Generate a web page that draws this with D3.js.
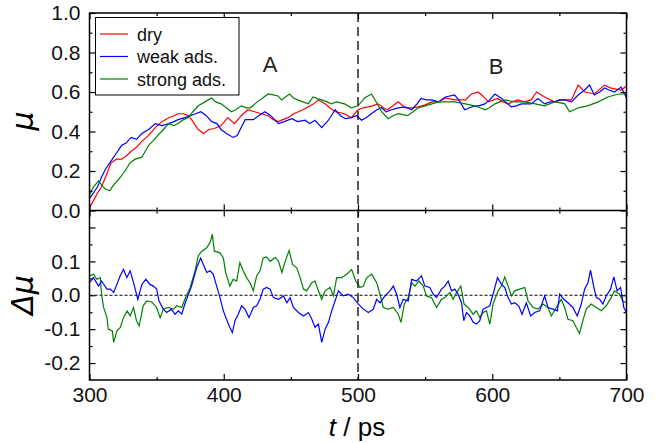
<!DOCTYPE html>
<html>
<head>
<meta charset="utf-8">
<script src="https://cdn.jsdelivr.net/npm/d3@7"></script>
<style>
  body { margin: 0; background: #fff; }
  svg { display: block; font-family: "Liberation Sans", Arial, sans-serif; }
  .tick text { fill: #111; }
</style>
</head>
<body>
<svg id="root" width="666" height="443"></svg>
<script>
//Series values: [t (ps), value]
const dryMu = [[300,.015],[303,.05],[306,.09],[309,.12],[312,.17],[316,.24],[320,.26],[324,.26],[328,.28],[331,.30],[335,.32],[339,.35],[344,.38],[349,.42],[354,.45],[359,.47],[363,.48],[366,.49],[370,.49],[374,.48],[378,.44],[381,.41],[385,.39],[389,.41],[393,.415],[398,.43],[403,.47],[408,.44],[413,.48],[418,.51],[423,.50],[428,.49],[433,.48],[437,.46],[440.5,.45],[444,.46],[448,.47],[452,.49],[455.6,.50],[459,.51],[463,.525],[467,.54],[470.5,.56],[475.5,.54],[479,.52],[483,.50],[487,.495],[490,.49],[495,.47],[500,.51],[504,.52],[507.7,.525],[511,.53],[515,.54],[519,.52],[522,.51],[526,.53],[530,.55],[535,.52],[540,.52],[545,.525],[550,.535],[555,.55],[560,.55],[565,.57],[572,.56],[580,.56],[584.5,.59],[589.5,.60],[593,.58],[597,.55],[604,.567],[608,.55],[611.7,.54],[615,.55],[619,.56],[624,.55],[629,.56],[633,.60],[639,.575],[646.5,.55],[651,.56],[659,.56],[664,.635],[669,.60],[676,.59],[683.6,.635],[688.5,.62],[696,.61],[700,.63]];

const weakMu = [[300,.06],[303,.09],[306,.12],[309,.17],[312,.21],[316,.25],[320,.29],[324,.33],[327,.34],[331,.37],[335,.36],[339,.39],[344,.41],[349,.44],[354,.43],[359,.44],[363,.45],[366,.46],[371,.47],[375,.48],[379,.49],[383,.50],[387,.48],[391,.45],[395,.44],[398,.41],[402,.39],[407,.37],[410,.38],[413,.42],[416,.46],[422,.46],[426,.48],[430.6,.50],[435,.48],[440.7,.44],[445,.45],[450.7,.465],[455,.45],[460.6,.457],[464,.44],[468,.457],[473,.42],[478,.457],[483,.51],[487,.48],[490.5,.465],[495,.47],[499,.48],[502.7,.457],[506,.47],[510,.49],[514,.51],[517.6,.52],[521,.50],[525,.51],[530,.52],[535,.525],[540,.51],[544,.54],[547,.567],[551,.56],[555,.56],[560,.55],[565,.575],[572,.585],[576,.55],[579.5,.51],[583,.52],[587,.53],[590,.53],[594.5,.54],[598,.56],[602,.59],[607,.567],[610,.55],[614,.525],[618,.53],[621.7,.54],[625,.54],[629,.54],[634,.567],[639,.54],[643,.55],[646.5,.55],[650,.56],[654,.56],[659,.55],[664,.585],[668.8,.61],[672.5,.635],[676,.585],[680,.60],[683.6,.62],[687,.61],[691,.60],[696,.625],[700,.57]];

const strongMu = [[300,.08],[303,.12],[306.7,.15],[309,.13],[311.6,.11],[315,.10],[318,.13],[322,.16],[326.5,.20],[330,.24],[334,.26],[339,.27],[344,.33],[347,.35],[351,.38],[355,.41],[359,.44],[363,.43],[366,.44],[370,.46],[373.5,.47],[377,.50],[381,.53],[386,.55],[391,.57],[394,.55],[398,.54],[402,.52],[405.6,.50],[409,.51],[413,.53],[417,.52],[420,.52],[425,.55],[429,.57],[433,.59],[437,.585],[440.5,.58],[443,.56],[446,.575],[449,.59],[452,.57],[455,.56],[459,.55],[463,.54],[466.5,.575],[470,.565],[473,.56],[477,.55],[480,.54],[484,.55],[487,.545],[490,.54],[495,.52],[500,.53],[505,.57],[510,.59],[513.5,.55],[517.6,.50],[522.5,.465],[526,.48],[530,.49],[537,.48],[541,.50],[545,.52],[550,.53],[555,.54],[560,.55],[565,.55],[572,.55],[580,.54],[587,.53],[591,.52],[594.5,.51],[598,.52],[602,.54],[609.5,.56],[617,.55],[624,.55],[632,.54],[639,.53],[646.5,.55],[651,.545],[654,.54],[657.6,.50],[661,.51],[664,.52],[671,.53],[679,.55],[686,.575],[694,.59],[700,.59]];

const weakDelta = [[300,.037],[303,.052],[306.7,.027],[309,.042],[313,.018],[315.4,.018],[318,.008],[320.4,.032],[322.8,.057],[325.3,.076],[327.8,.052],[330.3,.072],[332.8,.037],[336,-.012],[339,.032],[342,.047],[345,.032],[347.6,.027],[350,.018],[351.8,-.017],[355,-.041],[357.5,-.051],[361,-.041],[363.7,-.056],[366.2,-.046],[368.7,-.056],[371,-.026],[373.7,.003],[376,.027],[379.8,.081],[382.8,.11],[384.8,.091],[387.3,.067],[389.8,.072],[392.2,.062],[394.7,.027],[397.2,-.007],[399.7,-.046],[402,-.071],[404.6,-.095],[406.4,-.11],[408.4,-.075],[410.8,-.056],[413.3,-.031],[415.8,-.041],[418.8,-.066],[422,-.036],[424.5,-.031],[427,-.012],[429.4,.018],[431.9,.023],[434.6,.018],[437,-.007],[440.8,-.012],[444.5,-.002],[447,-.022],[449.4,-.007],[451.9,-.036],[455.6,-.051],[459.4,-.061],[463.1,-.051],[465.6,-.071],[468,-.095],[470.5,-.085],[473,-.139],[475.5,-.10],[478,-.08],[480.4,-.046],[482.9,-.017],[485.4,.013],[489.1,-.002],[492.8,.003],[496.5,-.007],[500.3,-.026],[504,-.041],[507.7,-.051],[511.4,-.041],[513.9,-.012],[516.4,-.022],[520.1,-.002],[523.8,.013],[526.3,.027],[528.8,.003],[531.2,-.036],[533.7,-.012],[537.4,-.017],[540,.047],[543.6,.042],[547.3,.057],[549.8,.027],[553.5,.023],[556,.003],[558.5,-.007],[562.2,.018],[564.7,.027],[567.2,.042],[569.7,.013],[572.1,.018],[574.6,.003],[577.1,-.022],[578.8,-.075],[580.8,-.051],[583.3,-.061],[585.8,-.08],[588.2,-.085],[590.7,-.075],[593.2,-.041],[595.7,-.036],[598.2,-.031],[600.6,.003],[603.9,.052],[606.8,.032],[609.3,.023],[611.8,-.007],[614.3,-.026],[616.7,-.022],[619.7,-.031],[622.2,-.056],[625.4,-.022],[628.6,-.061],[631.6,-.051],[635.3,-.046],[639,-.002],[641.5,-.036],[645.2,-.041],[648.5,-.046],[650.2,.003],[653.4,-.012],[656.4,-.022],[660.1,-.036],[663.3,-.061],[666.3,-.026],[668.8,.018],[671.3,.037],[673.2,.074],[675.5,.027],[677.5,-.007],[680,-.012],[682.4,-.026],[684.9,-.002],[688.1,.018],[690.6,.054],[693,.013],[695.6,.023],[698,-.036],[700,-.051]];

const strongDelta = [[300,.057],[303,.062],[305.5,.047],[308,.052],[309,.003],[310.5,-.036],[313,-.066],[314,-.10],[317,-.105],[318,-.139],[320.4,-.105],[323,-.095],[325.3,-.066],[328,-.046],[330.3,-.061],[332.8,-.036],[335,-.075],[337,-.09],[340,-.031],[342.7,-.017],[346.4,-.02],[350,-.036],[352.6,-.066],[355,-.041],[358.8,-.036],[362.5,-.041],[365,-.031],[368.7,-.036],[371,-.012],[375,.023],[378.6,.072],[381,.116],[383.6,.13],[387.3,.14],[389.8,.155],[391.5,.18],[393,.13],[397.2,.125],[399.7,.11],[401.4,.067],[404.6,.027],[407,.047],[409.6,.042],[412,.096],[414.5,.072],[417,.052],[419.5,.037],[422,.013],[424.5,.057],[427,.072],[429.4,.11],[431.9,.113],[434.6,.10],[438.3,.111],[440.8,.10],[443.3,.067],[445.7,.10],[448.7,.132],[451.2,.091],[454.4,.081],[456.9,.052],[459.4,.018],[461.8,.013],[465.6,.037],[468,.042],[470.5,.013],[473,-.012],[475.5,.013],[479.2,.023],[481.7,-.002],[484.1,.052],[487.9,.052],[491.6,.062],[495.3,.076],[498.3,.042],[501.5,.023],[504,.027],[506.5,.052],[510.2,.062],[513.9,.037],[516.4,.003],[518.8,-.036],[522.6,-.041],[526.3,-.036],[530,-.056],[532,-.08],[534.5,-.026],[537.4,-.007],[540,.037],[542.4,.027],[545.4,.042],[548.6,.027],[551,-.002],[554.8,-.007],[558.5,-.036],[562.2,-.012],[564.7,-.007],[568.4,.008],[570.9,-.012],[573.4,.008],[576.6,.027],[579,-.026],[582,-.036],[585.8,-.056],[588.2,-.046],[590.7,-.066],[593.2,-.051],[595.7,-.046],[598.2,-.085],[600.6,-.026],[604.4,.013],[606.8,.027],[609.3,.054],[611.8,.027],[614.3,-.002],[616.7,.013],[620.5,.018],[624.2,.023],[626.7,-.017],[630.4,-.036],[634.1,-.041],[637.8,-.026],[641.5,-.036],[644,-.061],[647.7,-.036],[651.4,-.012],[653.9,-.036],[656.4,-.071],[660.1,-.075],[662.6,-.095],[665,-.113],[667.5,-.075],[670,-.041],[673.7,-.026],[677.5,-.036],[681.2,-.046],[684.9,-.031],[688.6,-.007],[691,.013],[694.8,.003],[697.3,-.017],[700,-.022]];

//Legend entries and tick values
const legendNames = ["dry", "weak ads.", "strong ads."];
const legendColors = ["#ff0000", "#0000ff", "#008000"];
const xTicks = [300, 400, 500, 600, 700];
const xMinor = [350, 450, 550, 650];
const muTicks = [0, 0.2, 0.4, 0.6, 0.8, 1.0];
const muMinor = [0.1, 0.3, 0.5, 0.7, 0.9];
const dmuTicks = [-0.2, -0.1, 0, 0.1, 0.2];
const dmuLabels = [-0.2, -0.1, 0, 0.1];
const dmuMinor = [-0.15, -0.05, 0.05, 0.15];

const svg = d3.select("#root");
const plotLeft = 89.5, plotRight = 626.5, plotTop = 13, plotMid = 210.5, plotBottom = 380;

const x = d3.scaleLinear().domain([300, 700]).range([plotLeft, plotRight]);
const yTop = d3.scaleLinear().domain([0, 1]).range([plotMid, plotTop]);
const yBot = d3.scaleLinear().domain([-0.25, 0.25]).range([plotBottom, plotMid]);

//Clip paths for each panel
const defs = svg.append("defs");
defs.append("clipPath").attr("id", "clipTop").append("rect")
    .attr("x", plotLeft).attr("y", plotTop).attr("width", plotRight - plotLeft).attr("height", plotMid - plotTop);
defs.append("clipPath").attr("id", "clipBot").append("rect")
    .attr("x", plotLeft).attr("y", plotMid).attr("width", plotRight - plotLeft).attr("height", plotBottom - plotMid);

//Helper that draws inward ticks (no labels, no domain)
function ticks(axisFn, scale, values, size, tx, ty) {
    svg.append("g")
        .attr("transform", `translate(${tx},${ty})`)
        .call(axisFn(scale).tickValues(values).tickSizeInner(-size).tickSizeOuter(0).tickFormat(""))
        .call(g => g.select(".domain").remove())
        .selectAll("line").attr("stroke", "#000").attr("stroke-width", 1.2);
}

//Curves
const lineTop = d3.line().x(d => x(d[0])).y(d => yTop(d[1]));
const lineBot = d3.line().x(d => x(d[0])).y(d => yBot(d[1]));

const gTop = svg.append("g").attr("clip-path", "url(#clipTop)");
[[dryMu, legendColors[0]], [weakMu, legendColors[1]], [strongMu, legendColors[2]]].forEach(([data, color]) => {
    gTop.append("path").datum(data).attr("d", lineTop)
        .attr("fill", "none").attr("stroke", color).attr("stroke-width", 1.2);
});

const gBot = svg.append("g").attr("clip-path", "url(#clipBot)");
gBot.append("line")
    .attr("x1", plotLeft).attr("x2", plotRight).attr("y1", yBot(0)).attr("y2", yBot(0))
    .attr("stroke", "#000").attr("stroke-width", 1).attr("stroke-dasharray", "3,2");
[[strongDelta, legendColors[2]], [weakDelta, legendColors[1]]].forEach(([data, color]) => {
    gBot.append("path").datum(data).attr("d", lineBot)
        .attr("fill", "none").attr("stroke", color).attr("stroke-width", 1.2);
});

//Vertical dashed line at 500 ps
svg.append("line")
    .attr("x1", x(500)).attr("x2", x(500)).attr("y1", plotTop).attr("y2", plotBottom)
    .attr("stroke", "#222").attr("stroke-width", 1.5).attr("stroke-dasharray", "9,5");

//Frames
svg.append("rect").attr("x", plotLeft).attr("y", plotTop).attr("width", plotRight - plotLeft).attr("height", plotBottom - plotTop)
    .attr("fill", "none").attr("stroke", "#000").attr("stroke-width", 1.5);
svg.append("line").attr("x1", plotLeft).attr("x2", plotRight).attr("y1", plotMid).attr("y2", plotMid)
    .attr("stroke", "#000").attr("stroke-width", 1.5);

//Inward ticks, top panel
ticks(d3.axisLeft, yTop, muTicks, 6, plotLeft, 0);
ticks(d3.axisLeft, yTop, muMinor, 3, plotLeft, 0);
ticks(d3.axisRight, yTop, muTicks, 6, plotRight, 0);
ticks(d3.axisRight, yTop, muMinor, 3, plotRight, 0);
ticks(d3.axisTop, x, xTicks, 6, 0, plotTop);
ticks(d3.axisTop, x, xMinor, 3, 0, plotTop);
ticks(d3.axisBottom, x, xTicks, 6, 0, plotMid);
ticks(d3.axisBottom, x, xMinor, 3, 0, plotMid);
//Inward ticks, bottom panel
ticks(d3.axisTop, x, xTicks, 6, 0, plotMid);
ticks(d3.axisTop, x, xMinor, 3, 0, plotMid);
ticks(d3.axisBottom, x, xTicks, 6, 0, plotBottom);
ticks(d3.axisBottom, x, xMinor, 3, 0, plotBottom);
ticks(d3.axisLeft, yBot, dmuTicks, 6, plotLeft, 0);
ticks(d3.axisLeft, yBot, dmuMinor, 3, plotLeft, 0);
ticks(d3.axisRight, yBot, dmuTicks, 6, plotRight, 0);
ticks(d3.axisRight, yBot, dmuMinor, 3, plotRight, 0);

//Tick labels
const labelStyle = g => g.call(s => s.select(".domain").remove())
    .call(s => s.selectAll("line").remove())
    .call(s => s.selectAll("text").attr("font-size", 21).attr("font-family", "Liberation Sans, Arial, sans-serif"));

svg.append("g").attr("transform", `translate(${plotLeft},0)`)
    .call(d3.axisLeft(yTop).tickValues(muTicks).tickPadding(9).tickSize(0).tickFormat(d => d.toFixed(1)))
    .call(labelStyle);
svg.append("g").attr("transform", `translate(${plotLeft},0)`)
    .call(d3.axisLeft(yBot).tickValues(dmuLabels).tickPadding(9).tickSize(0).tickFormat(d => d.toFixed(1)))
    .call(labelStyle);
svg.append("g").attr("transform", `translate(0,${plotBottom})`)
    .call(d3.axisBottom(x).tickValues(xTicks).tickPadding(7).tickSize(0).tickFormat(d => d))
    .call(labelStyle);

//Axis titles
svg.append("text")
    .attr("transform", "translate(33,121) rotate(-90)")
    .attr("text-anchor", "middle")
    .attr("font-family", "DejaVu Sans, sans-serif").attr("font-style", "italic").attr("font-size", 30)
    .text("μ");
svg.append("text")
    .attr("transform", "translate(33,295) rotate(-90)")
    .attr("text-anchor", "middle")
    .attr("font-family", "DejaVu Sans, sans-serif").attr("font-style", "italic").attr("font-size", 30)
    .text("Δμ");
const xt = svg.append("text")
    .attr("x", 357).attr("y", 436)
    .attr("text-anchor", "middle")
    .attr("font-size", 26);
xt.append("tspan").attr("font-style", "italic").text("t");
xt.append("tspan").text(" / ps");

//Region labels
svg.append("text").attr("x", 270).attr("y", 72).attr("text-anchor", "middle")
    .attr("font-size", 22).attr("fill", "#222").text("A");
svg.append("text").attr("x", 496).attr("y", 74).attr("text-anchor", "middle")
    .attr("font-size", 22).attr("fill", "#222").text("B");

//Legend
const legend = svg.append("g");
legend.append("rect")
    .attr("x", 95.5).attr("y", 17.5).attr("width", 143.5).attr("height", 77.5)
    .attr("fill", "#fff").attr("stroke", "#000").attr("stroke-width", 1);
legendNames.forEach((name, i) => {
    const yy = 34 + i * 22.5;
    legend.append("line")
        .attr("x1", 100).attr("x2", 128).attr("y1", yy).attr("y2", yy)
        .attr("stroke", legendColors[i]).attr("stroke-width", 1.2);
    legend.append("text")
        .attr("x", 137).attr("y", yy + 6.5)
        .attr("font-size", 18).attr("fill", "#111")
        .text(name);
});
</script>
</body>
</html>
